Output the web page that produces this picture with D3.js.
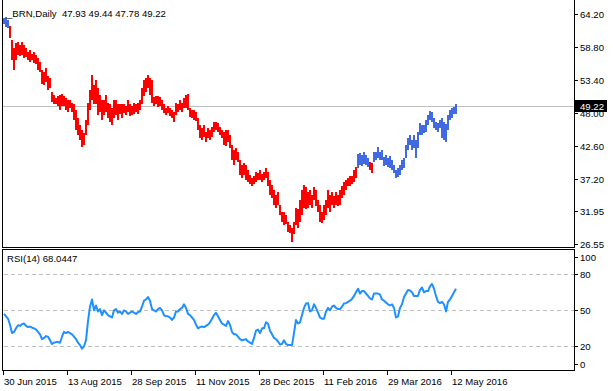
<!DOCTYPE html>
<html><head><meta charset="utf-8">
<script src="https://cdn.jsdelivr.net/npm/d3@7/dist/d3.min.js"></script>
<style>
html,body{margin:0;padding:0;background:#fff;}
svg{display:block;}
text{font-family:"Liberation Sans",Arial,sans-serif;font-size:9.6px;fill:#000;white-space:pre;}
</style></head><body>
<script>
// ---------------- DATA ----------------
const symbolTitle = "_BRN,Daily  47.93 49.44 47.78 49.22";
const rsiTitle = "RSI(14) 68.0447";
const lastPrice = 49.22;

const highs = [63.5,63.7,63.2,62.3,59.9,58.7,59.4,59.6,59.2,59.6,59.2,58.7,58.0,58.3,57.7,58.0,57.5,57.0,56.3,55.1,
54.7,55.4,54.0,53.7,51.4,50.9,50.4,50.8,50.9,51.1,50.8,50.4,50.1,50.1,49.7,49.4,48.5,47.2,46.1,45.2,
44.7,46.8,49.6,51.8,54.2,52.6,53.4,52.1,50.9,50.1,50.1,50.9,49.7,49.4,48.8,50.1,50.1,49.4,49.4,49.4,
49.4,49.2,50.1,49.4,49.2,49.7,49.4,49.6,50.1,52.1,53.4,53.7,54.2,53.7,53.4,50.6,50.8,50.8,50.6,50.1,
49.4,48.8,49.2,48.8,48.5,48.2,49.6,49.4,50.1,49.7,50.4,50.9,51.1,48.8,48.5,48.5,48.2,47.2,46.1,45.6,
46.1,44.9,45.6,45.2,45.7,46.5,46.5,46.3,45.7,45.2,44.9,45.2,45.2,44.4,42.7,42.0,42.3,41.6,40.3,39.5,
39.8,39.5,38.7,37.8,37.3,37.7,38.3,38.2,38.7,38.0,38.3,39.0,38.3,37.0,36.2,35.4,34.6,35.1,33.0,31.8,
31.8,31.3,30.1,29.7,29.2,30.1,32.5,32.2,33.7,35.4,36.2,35.8,35.1,35.4,34.6,35.8,35.4,33.7,33.0,31.8,
33.0,33.7,35.4,34.6,35.1,34.4,35.1,34.6,35.4,36.1,36.7,37.0,37.3,37.7,37.7,38.7,39.2,41.3,41.5,41.1,
41.6,41.1,40.6,40.0,39.8,41.6,41.6,42.5,41.6,42.0,40.8,41.1,40.6,41.0,40.3,39.5,38.7,39.0,39.5,40.3,
40.6,42.8,43.9,44.4,43.5,44.4,43.5,44.9,46.3,46.1,46.1,46.8,47.7,48.3,48.2,47.2,46.5,46.3,46.8,47.2,
46.5,46.2,47.7,48.5,48.8,49.0,49.44];

const lows = [62.5,62.1,61.9,60.3,56.6,55.1,56.6,57.5,57.3,57.5,57.0,57.2,56.6,56.3,56.6,56.1,56.0,55.1,54.7,52.7,
52.5,53.0,51.8,52.1,49.8,49.4,49.4,49.2,48.5,49.2,49.2,48.5,48.2,48.8,48.2,46.8,45.2,44.4,43.5,42.5,
42.7,44.4,46.1,48.5,50.1,49.4,49.4,47.7,48.2,46.8,47.7,48.2,47.2,46.5,46.1,47.2,47.7,46.8,47.8,47.2,
48.0,47.7,48.2,47.5,47.7,47.8,48.2,47.8,48.5,49.4,50.8,51.4,52.1,50.9,49.7,49.2,49.4,49.0,49.2,48.5,
48.0,47.7,48.0,47.5,47.2,46.5,47.7,48.2,48.5,48.2,48.8,48.8,48.5,47.3,47.2,46.8,46.7,45.2,43.9,43.5,
44.1,43.2,43.9,43.5,44.1,44.9,45.2,44.9,44.4,43.9,42.7,42.6,43.2,42.3,40.3,39.5,40.3,39.9,37.8,37.3,
37.8,37.0,36.7,36.3,36.1,36.3,36.7,37.0,37.0,36.7,37.0,37.3,36.1,34.6,34.1,32.9,32.5,32.9,31.3,30.1,
29.7,29.9,28.5,28.4,26.9,28.2,29.7,29.2,30.1,31.3,32.5,32.2,32.5,32.9,32.5,33.7,32.8,31.8,30.1,30.0,
30.5,31.3,32.5,31.8,32.9,32.5,32.9,32.8,32.9,34.1,34.6,35.4,36.1,36.1,36.3,36.7,37.3,39.0,39.5,39.4,
39.6,39.5,39.2,38.7,38.2,39.9,40.3,40.6,40.3,40.3,39.4,39.5,39.2,39.0,38.7,38.2,37.3,37.5,37.8,38.7,
39.0,40.6,42.0,42.8,42.0,42.3,40.6,42.3,44.4,44.4,44.7,44.9,46.1,46.8,46.5,45.6,45.2,44.9,45.6,43.9,
43.5,43.2,45.2,46.8,47.2,47.8,47.78];

const closes = [63.0,62.4,62.1,60.6,57.2,56.7,58.7,58.2,57.7,58.7,57.7,57.5,57.2,56.8,57.0,56.4,56.2,55.6,55.1,53.1,
53.3,53.7,52.2,52.6,50.2,50.0,49.9,49.4,49.0,50.4,49.6,49.1,48.7,49.4,48.5,47.3,45.6,44.9,44.1,42.9,
43.6,46.1,49.0,50.9,52.4,49.9,51.9,48.5,49.9,47.5,49.3,48.7,48.0,47.0,46.7,49.3,48.5,47.5,49.0,47.8,
48.5,48.3,49.4,48.0,48.1,49.0,48.5,49.1,49.6,51.4,52.8,52.6,53.3,51.4,49.9,49.4,49.7,50.2,49.9,48.8,
48.3,48.0,48.5,47.8,47.5,46.9,49.0,49.0,49.4,48.8,49.9,49.6,49.4,47.7,47.5,47.1,47.0,45.6,44.4,44.6,
45.1,43.6,44.6,44.1,45.1,46.1,46.3,45.4,44.8,44.2,43.2,44.1,43.5,42.7,40.7,39.9,40.9,40.2,38.3,37.8,
38.6,37.4,37.1,36.6,36.4,36.8,37.8,37.3,38.1,37.0,37.8,38.3,36.4,34.9,34.7,33.4,33.0,33.9,31.8,30.6,
30.2,30.5,29.1,29.3,28.0,29.6,31.5,30.0,32.8,34.4,35.4,33.0,34.4,33.4,33.9,35.1,33.2,32.5,30.8,30.5,
31.2,32.0,34.4,32.5,33.9,33.0,33.9,33.4,34.7,34.9,35.9,36.4,36.6,36.8,37.2,38.3,38.8,40.7,40.3,40.5,
40.9,40.0,39.6,39.2,38.8,41.2,40.9,41.7,40.7,41.5,39.8,40.2,39.6,40.2,39.1,38.6,37.8,38.3,39.0,39.9,
40.2,42.2,43.4,43.8,42.5,42.9,41.2,44.4,45.8,45.1,45.4,46.1,47.3,47.7,47.0,46.1,45.8,45.6,46.3,44.6,
45.1,44.1,47.3,48.0,48.3,47.93,49.22];

const rsi = [47,45,43,38,31,32,35,37.5,37,38.5,39,37,36,36.5,35.5,35,34,32,30,26,
27,28.5,28,25,22,23,23.5,23.5,23,28,32,31,32,31,30,28,26,23,21,18,
20,25,41,53,59,50,54,49,51,46,50,48,46,45,44,50,51,48,49,47,
50,49,47,48,49,48,47,48.5,49,53,58,59,61,58,51,50,49,51,52,50,
46,45,45,44,42,44,49,49,51,52,55,52,47,46,44,42,38,35,36,36.5,
36,37,38,40,43,46,48,45,42,39,38,37,41,38,32,30,30,28,26,25,
25.5,26,24,23,22,27,33,34,31,35,35,40,39,33,30,27,26,24,21.5,22,
25,22,21,21,21,31,42,39,40,46,52,55.6,56,49,50,55,52,48,44,43,
43,49,52,50,53,54,52,51,51,53,55.6,56,57,58,59.5,62,65,68,64,66,
66,64,62,60,59,64,64,64,63,59,58,56.5,55,54,55,52,44,45,52,55,
61,64,67,66.5,65,62,62,62,67,69,65,66,66,70,72,68,62,57,56,57,
55,49,57,59,62,65,68.0447];

// bar colour groups (index ranges drawn in blue, rest in red)
const blueRanges = [[0,2],[177,182],[185,226]];

const priceTicks = [64.20,58.80,53.40,48.00,42.60,37.20,31.95,26.55];
const rsiTicks = [100,80,50,20,0];
const rsiLevels = [80,50,20];
const dateTickIndex = [0,32,64,96,128,160,192,224];
const dateLabels = ["30 Jun 2015","13 Aug 2015","28 Sep 2015","11 Nov 2015","28 Dec 2015","11 Feb 2016","29 Mar 2016","12 May 2016"];

// ---------------- DRAW ----------------
const W = 613, H = 391;
const plotL = 2, plotR = 574;
const mainT = 0, mainB = 247;
const rsiT = 249.5, rsiB = 370.5;
const RED = "#ff0000", BLUE = "#4169e1";

const svg = d3.select("body").append("svg").attr("width", W).attr("height", H);

const x = d3.scaleLinear().domain([0, 285.5]).range([3, 574]);
const y = d3.scaleLinear().domain([26.55, 64.20]).range([244, 14]);
const yr = d3.scaleLinear().domain([0, 100]).range([370.3, 250.3]);

const isBlue = i => blueRanges.some(r => i >= r[0] && i <= r[1]);

// last price line
svg.append("line").attr("x1", plotL).attr("x2", plotR)
  .attr("y1", Math.round(y(lastPrice)) + 0.5).attr("y2", Math.round(y(lastPrice)) + 0.5)
  .attr("stroke", "#c0c0c0").attr("stroke-width", 1);

// bars: high-low body plus a close tick
const bars = svg.append("g").attr("shape-rendering", "crispEdges");
closes.forEach((c, i) => {
  const col = isBlue(i) ? BLUE : RED;
  const bx = Math.round(x(i));
  const top = Math.round(y(highs[i])), bot = Math.round(y(lows[i]));
  bars.append("rect").attr("x", bx).attr("y", top).attr("width", 2)
    .attr("height", Math.max(1, bot - top)).attr("fill", col);
});

// RSI levels
svg.append("g").selectAll("line").data(rsiLevels).join("line")
  .attr("x1", plotL + 2).attr("x2", plotR)
  .attr("y1", d => Math.round(yr(d)) + 0.5).attr("y2", d => Math.round(yr(d)) + 0.5)
  .attr("stroke", "#c0c0c0").attr("stroke-dasharray", "4,3").attr("shape-rendering", "crispEdges");

// RSI line
svg.append("path").datum(rsi)
  .attr("d", d3.line().x((d, i) => x(i) + 1).y(d => yr(d)))
  .attr("fill", "none").attr("stroke", "#1e90ff").attr("stroke-width", 2).attr("stroke-linejoin", "round");

// frames
const fr = svg.append("g").attr("stroke", "#000").attr("fill", "none").attr("shape-rendering", "crispEdges");
fr.append("path").attr("d", `M${plotL + 0.5},${mainT}V${mainB + 0.5}H${plotR + 0.5}V${mainT}`);
fr.append("path").attr("d", `M${plotL + 0.5},${rsiB}V${rsiT}H${plotR + 0.5}V${rsiB}H${plotL + 0.5}`);

// price axis
const pa = svg.append("g");
priceTicks.forEach(v => {
  const ty = Math.round(y(v)) + 0.5;
  pa.append("line").attr("x1", plotR + 1).attr("x2", plotR + 4).attr("y1", ty).attr("y2", ty)
    .attr("stroke", "#000").attr("shape-rendering", "crispEdges");
  pa.append("text").attr("x", 580).attr("y", ty + 3.5).text(v.toFixed(2));
});
// last price box
const ly = y(lastPrice);
pa.append("rect").attr("x", 575).attr("y", Math.round(ly) - 6).attr("width", 32).attr("height", 12).attr("fill", "#000");
pa.append("text").attr("x", 580).attr("y", Math.round(ly) + 3.5).style("fill", "#fff").text(lastPrice.toFixed(2));

// RSI axis
rsiTicks.forEach(v => {
  const ty = Math.round(Math.max(257, Math.min(364, yr(v)))) + 0.5;
  pa.append("line").attr("x1", plotR + 1).attr("x2", plotR + 4).attr("y1", ty).attr("y2", ty)
    .attr("stroke", "#000").attr("shape-rendering", "crispEdges");
  pa.append("text").attr("x", 580).attr("y", ty + 3.5).text(String(v));
});

// date axis
dateTickIndex.forEach((idx, k) => {
  const tx = Math.round(x(idx)) + 0.5;
  pa.append("line").attr("x1", tx).attr("x2", tx).attr("y1", rsiB).attr("y2", rsiB + 4)
    .attr("stroke", "#000").attr("shape-rendering", "crispEdges");
  pa.append("text").attr("x", tx + 0.5).attr("y", 385).text(dateLabels[k]);
});

// titles
svg.append("text").attr("x", 7).attr("y", 17).text(symbolTitle);
svg.append("text").attr("x", 7).attr("y", 262).text(rsiTitle);
</script>
</body></html>
